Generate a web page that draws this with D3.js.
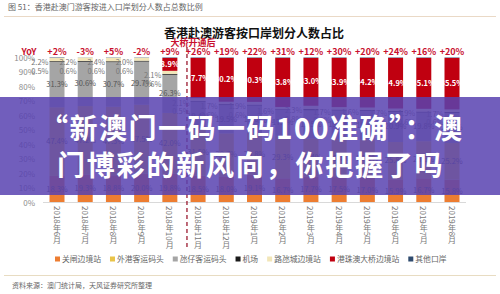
<!DOCTYPE html>
<html lang="zh">
<head>
<meta charset="UTF-8">
<title>香港赴澳游客按口岸划分人数占比</title>
<script src="https://d3js.org/d3.v7.min.js"></script>
<style>
  body { margin: 0; background: #fff; }
  svg text { font-family: "Noto Sans CJK SC", sans-serif; }
</style>
</head>
<body>
<div id="chart"></div>
<script>
const width = 500, height = 294;

// data (share of HK visitors by entry port, %)
const months = ["2018年6月", "2018年7月", "2018年8月", "2018年9月", "2018年10月", "2018年11月", "2018年12月",
  "2019年1月", "2019年2月", "2019年3月", "2019年4月", "2019年5月", "2019年6月", "2019年7月", "2019年8月"];
const yoy = ["+2%", "-3%", "+5%", "-2%", "+9%", "+26%", "+19%", "+22%", "+31%", "+12%", "+30%", "+20%", "+24%", "+16%", "+20%"];
const gongbei = [18.3, 19.3, 18.8, 20.0, 19.8, 18.5, 18.0, 19.1, 16.7, 17.7, 17.5, 17.0, 15.9, 16.7, 15.8];
const outerHarbour = [47.4, 47.2, 47.3, 47.5, 42.0, 31.5, 29.7, 28.8, 29.3, 26.4, 26.4, 26.5, 25.8, 25.6, 25.2];
const taipa = [31.3, 30.6, 30.7, 29.7, 26.3, 19.4, 19.5, 19.0, 17.8, 19.5, 19.6, 19.8, 20.9, 19.8, 20.9];
const airport = [0.5, 0.6, 0.6, 0.6, 0.6, 0.5, 0.6, 0.6, 0.5, 0.8, 0.6, 0.6, 0.5, 0.6, 0.6];
const cotai = [2.2, 2.2, 2.4, 2.0, 2.1, 2.1, 1.7, 1.9, 1.6, 2.3, 1.7, 1.6, 1.7, 1.9, 1.7];
const hzmb = [0, 0, 0, 0, 8.9, 27.7, 30.2, 30.3, 33.8, 33.0, 33.9, 34.2, 34.9, 35.1, 35.5];
const others = [0.3, 0.1, 0.2, 0.2, 0.3, 0.3, 0.3, 0.3, 0.3, 0.3, 0.3, 0.3, 0.3, 0.3, 0.3];

const series = [
  { key: "关闸边境站", color: "#ED7D31", values: gongbei },
  { key: "外港客运码头", color: "#E9C449", values: outerHarbour },
  { key: "氹仔客运码头", color: "#A5A5A5", values: taipa },
  { key: "机场", color: "#1a1a1a", values: airport },
  { key: "路氹城边境站", color: "#F2E6B8", values: cotai },
  { key: "港珠澳大桥边境站", color: "#C00010", values: hzmb },
  { key: "其他口岸", color: "#2F4B6E", values: others }
];

const rows = months.map((m, i) => {
  const r = { month: m };
  series.forEach(s => r[s.key] = s.values[i] / 100);
  return r;
});

const svg = d3.select("#chart").append("svg")
  .attr("width", width).attr("height", height);

const x = d3.scalePoint().domain(months).range([57, 452]);
const y = d3.scaleLinear().domain([0, 1]).range([202.5, 57.5]);
const barW = 15;
const red = "#C8102E";

// header
svg.append("text").attr("x", 8).attr("y", 10)
  .style("font-size", "8px").style("fill", "#666")
  .text("图 51：香港赴澳门游客按进入口岸划分人数占总数比例");
svg.append("line").attr("x1", 4).attr("x2", 496).attr("y1", 16.5).attr("y2", 16.5)
  .attr("stroke", "#EAD9C6").attr("stroke-width", 1);

svg.append("text").attr("x", 254).attr("y", 38).attr("text-anchor", "middle")
  .style("font-size", "12px").style("font-weight", "bold").style("fill", "#111")
  .text("香港赴澳游客按口岸划分人数占比");

svg.append("text").attr("x", 193).attr("y", 45.5).attr("text-anchor", "middle")
  .style("font-size", "9px").style("font-weight", "bold").style("fill", red)
  .text("大桥开通后");

// YoY row
svg.append("text").attr("x", 29).attr("y", 55).attr("text-anchor", "middle")
  .style("font-size", "9px").style("font-weight", "bold").style("fill", red)
  .text("YoY");
svg.selectAll(".yoy").data(yoy).enter().append("text")
  .attr("class", "yoy")
  .attr("x", (d, i) => x(months[i]))
  .attr("y", 54.5)
  .attr("text-anchor", "middle")
  .style("font-size", "9px").style("font-weight", "bold").style("fill", red)
  .text(d => d);

// y axis
const yAxis = svg.append("g").attr("transform", "translate(36,0)")
  .call(d3.axisLeft(y).ticks(10).tickFormat(d3.format(".0%")).tickSize(0).tickPadding(1));
yAxis.select(".domain").remove();
yAxis.selectAll("text").style("font-size", "8px").style("fill", "#8c8c8c")
  .style("font-family", "'Noto Sans CJK SC', sans-serif");

// stacked bars
const stack = d3.stack().keys(series.map(s => s.key));
const layers = stack(rows);
const colorOf = d3.scaleOrdinal().domain(series.map(s => s.key)).range(series.map(s => s.color));

svg.append("g").selectAll("g").data(layers).enter().append("g")
  .attr("fill", d => colorOf(d.key))
  .selectAll("rect").data(d => d).enter().append("rect")
  .attr("x", d => x(d.data.month) - barW / 2)
  .attr("width", barW)
  .attr("y", d => y(d[1]))
  .attr("height", d => Math.max(0, y(d[0]) - y(d[1])));

svg.append("line").attr("x1", 43).attr("x2", 466).attr("y1", y(0)).attr("y2", y(0))
  .attr("stroke", "#d9d9d9");

// data labels
const fmt = v => (v * 100).toFixed(1) + "%";
layers.forEach(layer => {
  const k = layer.key;
  const g = svg.append("g");
  if (k === "关闸边境站" || k === "外港客运码头" || k === "氹仔客运码头" || k === "港珠澳大桥边境站") {
    g.selectAll("text").data(layer.filter(d => d[1] - d[0] > 0.05)).enter().append("text")
      .attr("x", d => x(d.data.month))
      .attr("y", d => y((d[0] + d[1]) / 2) + 2.6)
      .attr("text-anchor", "middle")
      .style("font-size", "7.5px")
      .style("font-weight", k === "港珠澳大桥边境站" ? "bold" : "normal")
      .style("fill", k === "港珠澳大桥边境站" ? "#fff" : "#555")
      .text(d => fmt(d[1] - d[0]));
  }
  if (k === "路氹城边境站" || k === "机场") {
    const cotaiLayer = layers.find(l => l.key === "路氹城边境站");
    g.selectAll("text").data(layer).enter().append("text")
      .attr("x", d => x(d.data.month) - barW / 2 - 1)
      .attr("y", (d, i) => y(cotaiLayer[i][1]) + (k === "路氹城边境站" ? 7.5 : 16))
      .attr("text-anchor", "end")
      .style("font-size", "7.5px").style("fill", "#777")
      .text(d => fmt(d[1] - d[0]));
  }
});

// bridge opening divider
const divX = (x(months[4]) + x(months[5])) / 2 + 3;
svg.append("line").attr("x1", divX).attr("x2", divX).attr("y1", 47).attr("y2", 250)
  .attr("stroke", "#9B1B30").attr("stroke-width", 1.3).attr("stroke-dasharray", "4,3");

// x labels (vertical)
svg.append("g").selectAll("text").data(months).enter().append("text")
  .attr("x", d => x(d))
  .attr("y", 206)
  .style("writing-mode", "vertical-rl")
  .style("font-size", "8px").style("fill", "#777")
  .text(d => d);

// legend
const legend = svg.append("g").attr("transform", "translate(55,259)");
let lx = 0;
series.forEach(s => {
  const item = legend.append("g").attr("transform", `translate(${lx},0)`);
  item.append("rect").attr("x", 0).attr("y", -2.5).attr("width", 5).attr("height", 5).attr("fill", s.color);
  const t = item.append("text").attr("x", 7).attr("y", 2.8)
    .style("font-size", "7.8px").style("fill", "#666").text(s.key);
  lx += 7 + t.node().getComputedTextLength() + 9;
});

svg.append("line").attr("x1", 4).attr("x2", 496).attr("y1", 275.5).attr("y2", 275.5)
  .attr("stroke", "#E8DCC2").attr("stroke-width", 1);
svg.append("text").attr("x", 12).attr("y", 288)
  .style("font-size", "7px").style("fill", "#666")
  .text("资料来源：澳门统计局，天风证券研究所整理");

// headline banner over the chart
svg.append("rect").attr("x", 0).attr("y", 97).attr("width", width).attr("height", 98)
  .attr("fill", "rgba(88,66,176,0.85)");
svg.append("text").attr("x", 40).attr("y", 139)
  .style("font-size", "28px").style("font-weight", "bold").style("fill", "#fff")
  .style("letter-spacing", "1.5px")
  .text("“新澳门一码一码100准确”：澳");
svg.append("text").attr("x", 57).attr("y", 176)
  .style("font-size", "28px").style("font-weight", "bold").style("fill", "#fff")
  .style("letter-spacing", "1.8px")
  .text("门博彩的新风向，你把握了吗");
</script>
</body>
</html>
